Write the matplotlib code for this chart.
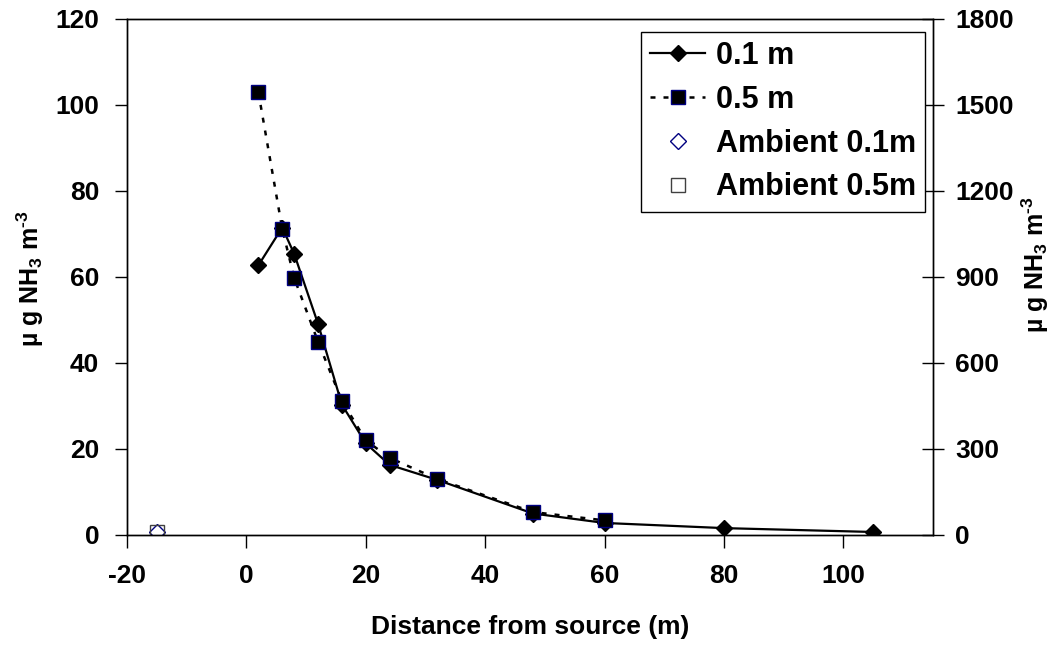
import matplotlib
matplotlib.use("Agg")
import matplotlib.pyplot as plt

plt.rcParams['font.family'] = ['Liberation Sans', 'DejaVu Sans']
plt.rcParams['font.weight'] = 'bold'
plt.rcParams['axes.labelweight'] = 'bold'
plt.rcParams['axes.unicode_minus'] = False
plt.rcParams['mathtext.fontset'] = 'custom'
plt.rcParams['mathtext.rm'] = 'Liberation Sans:bold'
plt.rcParams['mathtext.it'] = 'Liberation Sans:bold'
plt.rcParams['mathtext.bf'] = 'Liberation Sans:bold'
plt.rcParams['mathtext.default'] = 'rm'

# data
dist_01 = [2, 6, 8, 12, 16, 20, 24, 32, 48, 60, 80, 105]
conc_01 = [62.7, 71.5, 65.4, 49.1, 30.3, 21.3, 16.3, 12.8, 5.0, 2.8, 1.6, 0.7]   # left axis

dist_05 = [2, 6, 8, 12, 16, 20, 24, 32, 48, 60]
conc_05 = [1545, 1068, 897, 674, 468, 330, 269, 195, 80, 51]                   # right axis

amb_x = [-15]
amb_01 = [0.6]
amb_05 = [9]

xticks = [-20, 0, 20, 40, 60, 80, 100]
yticks_left = [0, 20, 40, 60, 80, 100, 120]
yticks_right = [0, 300, 600, 900, 1200, 1500, 1800]

ylab = r"µ g NH$_3$ m$^{\text{-}3}$"

fig = plt.figure(figsize=(10.56, 6.46), dpi=100)
ax = fig.add_axes([127 / 1056, 1 - 535 / 646, (933 - 127) / 1056, (535 - 19) / 646])
ax2 = ax.twinx()

l1, = ax.plot(dist_01, conc_01, color='black', lw=1.6, marker='D', ms=8,
              mfc='black', mec='black', label='0.1 m')
a1, = ax.plot(amb_x, amb_01, ls='none', marker='D', ms=8, mfc='white',
              mec='#000080', mew=1, label='Ambient 0.1m')
l2, = ax2.plot(dist_05, conc_05, color='black', lw=1.8, dashes=(2, 3.2),
               marker='s', ms=10.5, mfc='black', mec='#000080', mew=1, label='0.5 m')
a2, = ax2.plot(amb_x, amb_05, ls='none', marker='s', ms=10.5, mfc='none',
               mec='#404040', mew=1, label='Ambient 0.5m')
ax2.set_zorder(ax.get_zorder() + 1)

ax.set_xlim(-20, 115)
ax.set_ylim(0, 120)
ax2.set_ylim(0, 1800)
ax.set_xticks(xticks)
ax.set_yticks(yticks_left)
ax2.set_yticks(yticks_right)

ax.tick_params(axis='x', direction='out', length=9, width=1, labelsize=19, pad=12)
ax.tick_params(axis='y', direction='out', length=9, width=1, labelsize=19, pad=11)
ax2.tick_params(axis='y', direction='inout', length=16, width=1, labelsize=19, pad=8)
for a in (ax, ax2):
    for s in a.spines.values():
        s.set_linewidth(1)
        s.set_color('black')

ax.set_xlabel('Distance from source (m)', fontsize=19, labelpad=19)
fig.text(30 / 1056, 1 - 279 / 646, ylab, rotation=90, ha='center', va='center', fontsize=18)
fig.text(1035 / 1056, 1 - 265 / 646, ylab, rotation=90, ha='center', va='center', fontsize=18)

leg = ax2.legend(handles=[l1, l2, a1, a2], loc='upper right',
                 bbox_to_anchor=(925 / 1056, 1 - 32 / 646), bbox_transform=fig.transFigure,
                 borderaxespad=0, fancybox=False, framealpha=1, edgecolor='black',
                 fontsize=22, handlelength=1.8, handletextpad=0.35, borderpad=0.3,
                 labelspacing=0.45, numpoints=1)
leg.get_frame().set_linewidth(1)

fig.savefig('out.png', dpi=100)
